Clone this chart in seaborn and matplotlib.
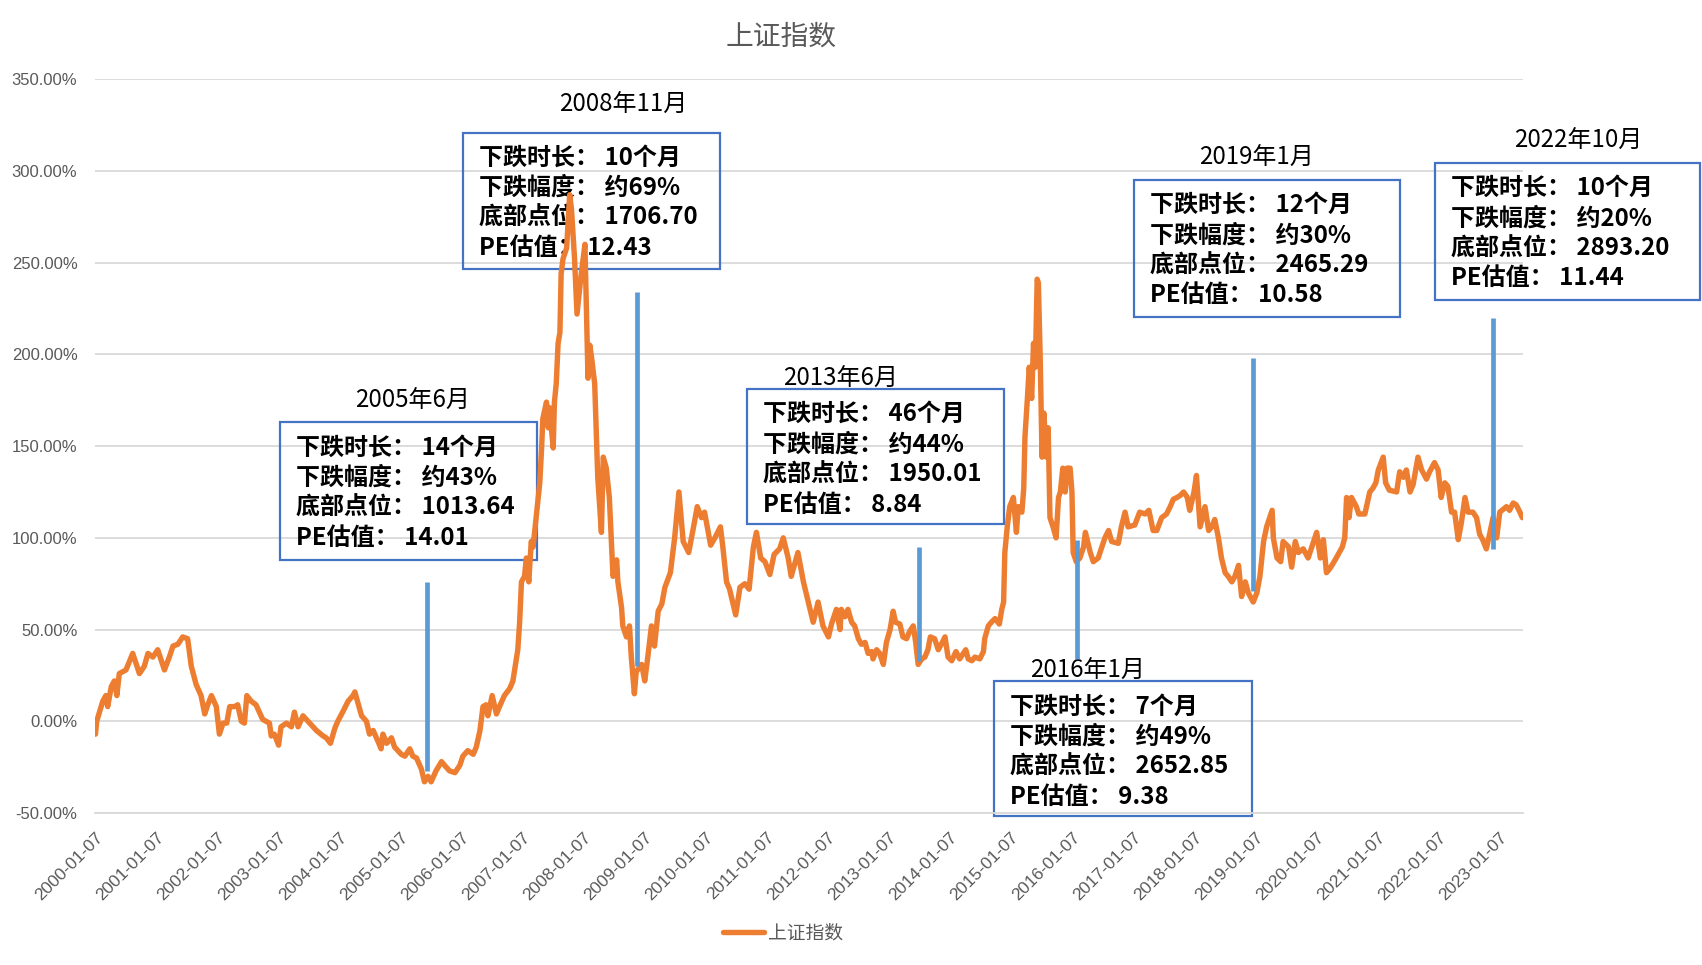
import matplotlib
matplotlib.use('Agg')
import matplotlib.pyplot as plt
import seaborn as sns
from matplotlib.patches import Rectangle
from matplotlib.ticker import FuncFormatter

# weekly dates, as decimal years (tick k = "k-01-07")
weeks = [
    2000.00, 2000.02, 2000.12, 2000.17, 2000.20, 2000.26, 2000.31, 2000.35, 2000.39, 2000.50,
    2000.61, 2000.67, 2000.72, 2000.80, 2000.86, 2000.94, 2001.02, 2001.13, 2001.21, 2001.27,
    2001.35, 2001.43, 2001.51, 2001.57, 2001.65, 2001.73, 2001.79, 2001.84, 2001.90, 2001.98,
    2002.03, 2002.09, 2002.15, 2002.20, 2002.28, 2002.33, 2002.39, 2002.44, 2002.48, 2002.55,
    2002.63, 2002.74, 2002.85, 2002.88, 2002.93, 2003.00, 2003.04, 2003.13, 2003.21, 2003.26,
    2003.32, 2003.40, 2003.51, 2003.62, 2003.73, 2003.78, 2003.85, 2003.92, 2003.97, 2004.05,
    2004.14, 2004.22, 2004.25, 2004.36, 2004.44, 2004.49, 2004.55, 2004.63, 2004.68, 2004.71,
    2004.77, 2004.85, 2004.90, 2005.01, 2005.07, 2005.15, 2005.20, 2005.26, 2005.34, 2005.39,
    2005.45, 2005.50, 2005.58, 2005.67, 2005.72, 2005.80, 2005.89, 2005.97, 2006.02, 2006.10,
    2006.19, 2006.24, 2006.30, 2006.35, 2006.40, 2006.43, 2006.50, 2006.57, 2006.62, 2006.70,
    2006.79, 2006.84, 2006.92, 2006.95, 2006.98, 2007.03, 2007.06, 2007.10, 2007.14, 2007.17,
    2007.22, 2007.28, 2007.31, 2007.33, 2007.39, 2007.42, 2007.44, 2007.50, 2007.52, 2007.55,
    2007.58, 2007.61, 2007.63, 2007.66, 2007.72, 2007.77, 2007.80, 2007.85, 2007.89, 2007.96,
    2008.02, 2008.07, 2008.10, 2008.13, 2008.18, 2008.23, 2008.29, 2008.32, 2008.37, 2008.42,
    2008.48, 2008.54, 2008.56, 2008.62, 2008.64, 2008.70, 2008.75, 2008.78, 2008.83, 2008.86,
    2008.95, 2009.00, 2009.05, 2009.11, 2009.16, 2009.22, 2009.28, 2009.33, 2009.42, 2009.49,
    2009.56, 2009.63, 2009.72, 2009.80, 2009.86, 2009.93, 2009.98, 2010.08, 2010.15, 2010.24,
    2010.28, 2010.34, 2010.39, 2010.49, 2010.56, 2010.64, 2010.71, 2010.78, 2010.83, 2010.90,
    2010.97, 2011.05, 2011.12, 2011.21, 2011.27, 2011.35, 2011.40, 2011.51, 2011.60, 2011.68,
    2011.76, 2011.84, 2011.92, 2012.01, 2012.06, 2012.14, 2012.20, 2012.22, 2012.28, 2012.33,
    2012.39, 2012.44, 2012.50, 2012.55, 2012.61, 2012.66, 2012.72, 2012.74, 2012.80, 2012.85,
    2012.91, 2012.96, 2013.02, 2013.07, 2013.11, 2013.18, 2013.23, 2013.29, 2013.34, 2013.40,
    2013.44, 2013.48, 2013.54, 2013.59, 2013.64, 2013.68, 2013.75, 2013.81, 2013.86, 2013.92,
    2013.97, 2014.03, 2014.10, 2014.16, 2014.26, 2014.30, 2014.36, 2014.41, 2014.49, 2014.55,
    2014.57, 2014.63, 2014.68, 2014.74, 2014.81, 2014.85, 2014.88, 2014.90, 2014.94, 2014.98,
    2015.04, 2015.09, 2015.12, 2015.18, 2015.21, 2015.23, 2015.27, 2015.30, 2015.34, 2015.37,
    2015.40, 2015.43, 2015.45, 2015.48, 2015.51, 2015.54, 2015.58, 2015.61, 2015.64, 2015.69,
    2015.74, 2015.78, 2015.81, 2015.85, 2015.89, 2015.92, 2015.97, 2016.00, 2016.02, 2016.07,
    2016.13, 2016.19, 2016.22, 2016.30, 2016.35, 2016.43, 2016.54, 2016.60, 2016.65, 2016.76,
    2016.81, 2016.87, 2016.92, 2017.03, 2017.11, 2017.20, 2017.26, 2017.33, 2017.39, 2017.47,
    2017.55, 2017.61, 2017.66, 2017.72, 2017.77, 2017.83, 2017.89, 2017.93, 2018.00, 2018.04,
    2018.10, 2018.18, 2018.24, 2018.29, 2018.34, 2018.40, 2018.45, 2018.51, 2018.56, 2018.62,
    2018.67, 2018.73, 2018.78, 2018.84, 2018.89, 2018.97, 2019.03, 2019.08, 2019.14, 2019.19,
    2019.28, 2019.30, 2019.36, 2019.42, 2019.46, 2019.55, 2019.60, 2019.66, 2019.71, 2019.79,
    2019.87, 2019.96, 2020.01, 2020.07, 2020.12, 2020.17, 2020.22, 2020.26, 2020.33, 2020.43,
    2020.47, 2020.50, 2020.54, 2020.58, 2020.66, 2020.70, 2020.80, 2020.84, 2020.88, 2020.93,
    2020.98, 2021.02, 2021.10, 2021.14, 2021.20, 2021.32, 2021.37, 2021.43, 2021.48, 2021.54,
    2021.59, 2021.67, 2021.73, 2021.81, 2021.86, 2021.94, 2022.00, 2022.05, 2022.11, 2022.16,
    2022.22, 2022.27, 2022.33, 2022.38, 2022.44, 2022.49, 2022.57, 2022.63, 2022.68, 2022.73,
    2022.79, 2022.85, 2022.90, 2022.96, 2023.01, 2023.12, 2023.17, 2023.23, 2023.28, 2023.34,
    2023.38,
]

# 上证指数 cumulative change, %
sh_index = [
    -7, 0, 11, 14, 8, 19, 22, 14, 26, 28,
    37, 31, 26, 30, 37, 35, 39, 28, 35, 41,
    42, 46, 45, 30, 20, 14, 4, 9, 14, 8,
    -7, -1, -1, 8, 8, 9, 0, -1, 14, 11,
    9, 1, -1, -8, -7, -13, -3, -1, -3, 5,
    -3, 3, -1, -5, -8, -9, -12, -4, 0, 5,
    11, 14, 16, 3, 0, -7, -5, -11, -15, -7,
    -12, -9, -14, -18, -19, -15, -19, -20, -26, -33,
    -30, -33, -27, -22, -24, -27, -28, -24, -19, -16,
    -18, -14, -5, 8, 9, 3, 14, 4, 8, 14,
    18, 22, 39, 54, 76, 79, 89, 76, 98, 95,
    111, 130, 149, 165, 174, 160, 171, 149, 174, 184,
    206, 212, 244, 252, 258, 287, 279, 252, 222, 244,
    260, 187, 205, 198, 184, 133, 103, 144, 138, 122,
    79, 88, 76, 62, 52, 46, 52, 35, 15, 27,
    31, 22, 35, 52, 41, 60, 64, 73, 81, 100,
    125, 98, 92, 106, 117, 111, 114, 96, 100, 106,
    95, 76, 72, 58, 73, 75, 72, 95, 103, 89,
    87, 80, 91, 94, 100, 89, 79, 92, 76, 65,
    54, 65, 52, 46, 53, 61, 50, 61, 57, 61,
    54, 52, 45, 42, 43, 37, 38, 34, 39, 37,
    31, 43, 50, 60, 54, 53, 46, 45, 49, 52,
    43, 31, 34, 35, 39, 46, 45, 39, 42, 46,
    35, 33, 38, 34, 39, 34, 33, 35, 34, 38,
    45, 52, 54, 56, 53, 61, 65, 92, 106, 117,
    122, 103, 117, 114, 127, 155, 176, 193, 176, 206,
    193, 241, 239, 198, 144, 168, 144, 160, 111, 106,
    100, 122, 125, 138, 125, 138, 138, 125, 92, 87,
    89, 95, 103, 92, 87, 89, 100, 104, 98, 97,
    106, 114, 106, 107, 114, 113, 115, 104, 104, 111,
    113, 117, 121, 122, 123, 125, 122, 115, 125, 134,
    106, 117, 104, 106, 110, 100, 89, 81, 79, 76,
    79, 85, 68, 76, 70, 65, 70, 79, 98, 106,
    115, 100, 89, 87, 98, 95, 84, 98, 92, 94,
    89, 98, 103, 89, 99, 81, 83, 85, 89, 95,
    100, 122, 111, 122, 117, 113, 113, 119, 125, 127,
    130, 137, 144, 130, 126, 125, 136, 133, 137, 125,
    129, 144, 137, 132, 136, 141, 137, 122, 130, 128,
    114, 114, 99, 108, 122, 114, 114, 111, 102, 99,
    94, 103, 111, 100, 114, 117, 115, 119, 118, 114,
    111,
]

years = list(range(2000, 2024))
year_labels = [f'{y}-01-07' for y in years]

# market bottoms: marker bars
bottom_dates = [2005.43, 2008.87, 2013.50, 2016.09, 2018.96, 2022.90]
bar_low = [-27, 30, 33, 34, 71, 94]
bar_high = [76, 234, 95, 99, 198, 220]

titles = ['2005年6月', '2008年11月', '2013年6月', '2016年1月', '2019年1月', '2022年10月']
durations = ['14个月', '10个月', '46个月', '7个月', '12个月', '10个月']
drops = ['约43%', '约69%', '约44%', '约49%', '约30%', '约20%']
bottom_points = ['1013.64', '1706.70', '1950.01', '2652.85', '2465.29', '2893.20']
pe_values = ['14.01', '12.43', '8.84', '9.38', '10.58', '11.44']

# annotation layout (data coords): box left, box top, width, height; title centre
box_layout = [
    (2003.02, 163.0, 4.21, 75.3, 2005.19, 175.0),
    (2006.02, 320.9, 4.22, 74.6, 2008.64, 336.8),
    (2010.67, 181.0, 4.21, 73.6, 2012.20, 187.4),
    (2014.72, 21.8, 4.23, 73.6, 2016.26, 28.1),
    (2017.02, 295.0, 4.36, 74.7, 2019.03, 307.9),
    (2021.95, 304.2, 4.34, 74.7, 2024.30, 317.2),
]

sns.set_style('white')
plt.rcParams['font.family'] = ['Noto Sans CJK SC', 'DejaVu Sans']

ORANGE = '#ED7D31'
BLUE = '#5B9BD5'
GRID = '#D9D9D9'
GREY = '#595959'

fig = plt.figure(figsize=(17.02, 9.65), dpi=100)
ax = fig.add_axes([0.0561, 0.1575, 0.8387, 0.7604])

sns.lineplot(x=weeks, y=sh_index, ax=ax, color=ORANGE, linewidth=3.9,
             legend=False, zorder=3)
ax.vlines(bottom_dates, bar_low, bar_high, color=BLUE, linewidth=3.4, zorder=4)

ax.set_xlim(2000.0, 2023.39)
ax.set_ylim(-50, 350)
ax.set_yticks(range(-50, 351, 50))
ax.yaxis.set_major_formatter(FuncFormatter(lambda v, p: f'{v:.2f}%'))
ax.set_xticks(years)
ax.set_xticklabels(year_labels, rotation=45, ha='right', rotation_mode='anchor')

for s in ['top', 'right', 'left']:
    ax.spines[s].set_visible(False)
ax.spines['bottom'].set_color(GRID)
ax.spines['bottom'].set_linewidth(1.3)
ax.grid(axis='y', color=GRID, linewidth=1.3)
ax.grid(axis='x', visible=False)
ax.set_axisbelow(True)
ax.tick_params(axis='y', length=0, pad=13, labelsize=12, labelcolor=GREY)
ax.tick_params(axis='x', direction='out', length=5, width=1.3, color=GRID,
               pad=7, labelsize=12.5, labelcolor=GREY)
for lbl in ax.get_xticklabels() + ax.get_yticklabels():
    lbl.set_family(['Liberation Sans', 'DejaVu Sans'])

for i, (bx, by, bw, bh, tx, ty) in enumerate(box_layout):
    ax.add_patch(Rectangle((bx, by - bh), bw, bh, fill=False, edgecolor='#4472C4',
                           linewidth=1.6, clip_on=False, zorder=2))
    ax.text(tx, ty, titles[i], ha='center', va='center', fontsize=17.3,
            color='black', clip_on=False)
    lines = [f'下跌时长： {durations[i]}', f'下跌幅度： {drops[i]}',
             f'底部点位： {bottom_points[i]}', f'PE估值： {pe_values[i]}']
    for j, line in enumerate(lines):
        ax.text(bx + 0.26, by - 13.6 - j * 16.4, line, ha='left', va='center',
                fontsize=17.3, fontweight='bold', color='black', clip_on=False,
                zorder=2)

fig.text(0.4592, 0.962, '上证指数', ha='center', va='center', fontsize=20, color=GREY)
fig.legend(ax.lines[:1], ['上证指数'], loc='center', bbox_to_anchor=(0.46, 0.033),
           frameon=False, fontsize=13.5, handlelength=2.2, handletextpad=0.2,
           labelcolor=GREY)

fig.savefig('out.png', dpi=100)
